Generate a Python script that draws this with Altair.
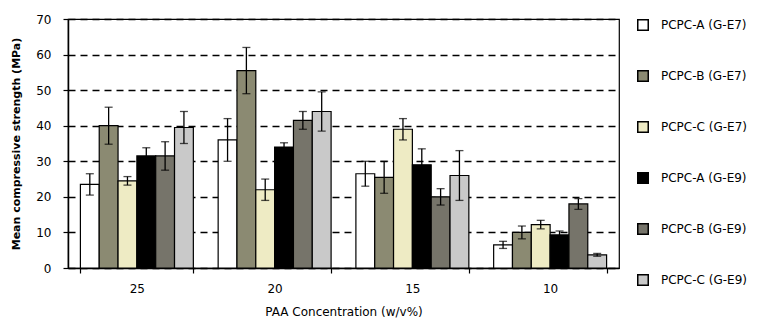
import altair as alt
import pandas as pd

groups = ["25", "20", "15", "10"]
series = ["PCPC-A (G-E7)", "PCPC-B (G-E7)", "PCPC-C (G-E7)",
          "PCPC-A (G-E9)", "PCPC-B (G-E9)", "PCPC-C (G-E9)"]
colors = ["#ffffff", "#8b8a72", "#eeebc4", "#000000", "#76746a", "#c9c9c9"]
y_ticks = [0, 10, 20, 30, 40, 50, 60, 70]

a_e7 = [23.5, 36.0, 26.5, 6.5]
b_e7 = [40.0, 55.5, 25.5, 10.0]
c_e7 = [24.5, 22.0, 39.0, 12.2]
a_e9 = [31.5, 34.0, 29.0, 9.3]
b_e9 = [31.5, 41.5, 20.0, 18.0]
c_e9 = [39.5, 44.0, 26.0, 3.7]

a_e7_err = [3.0, 6.0, 3.5, 1.0]
b_e7_err = [5.2, 6.5, 4.5, 1.8]
c_e7_err = [1.2, 3.0, 3.0, 1.2]
a_e9_err = [2.3, 1.2, 4.5, 1.1]
b_e9_err = [4.0, 2.5, 2.3, 1.5]
c_e9_err = [4.5, 5.5, 7.0, 0.4]

means = [a_e7, b_e7, c_e7, a_e9, b_e9, c_e9]
errs = [a_e7_err, b_e7_err, c_e7_err, a_e9_err, b_e9_err, c_e9_err]

rows = []
for s, m, e in zip(series, means, errs):
    for g, v, d in zip(groups, m, e):
        rows.append({"group": g, "series": s, "mean": v, "lo": v - d, "hi": v + d})
df = pd.DataFrame(rows)

font = "DejaVu Sans"

x = alt.X("group:N", sort=groups,
          scale=alt.Scale(paddingInner=0.18, paddingOuter=0.09),
          axis=alt.Axis(title="PAA Concentration (w/v%)", labelAngle=0, tickBand="extent",
                        labelPadding=10, titlePadding=12, tickSize=5))
xoff = alt.XOffset("series:N", sort=series,
                   scale=alt.Scale(paddingInner=0, paddingOuter=0))

yaxis = alt.Axis(title="Mean compressive strength (MPa)", values=y_ticks,
                 tickCount=20, labelOverlap=False, labelFlush=False,
                 tickSize=5, labelPadding=12, titlePadding=14,
                 grid=True, gridDash=[7, 5], gridColor="black", gridWidth=1.6)
yscale = alt.Scale(domain=[0, 70], nice=False)

bars = alt.Chart(df).mark_bar(stroke="black", strokeWidth=1.2,
                              width=alt.RelativeBandSize(1)).encode(
    x=x, xOffset=xoff,
    y=alt.Y("mean:Q", scale=yscale, axis=yaxis),
    color=alt.Color("series:N", sort=series,
                    scale=alt.Scale(domain=series, range=colors),
                    legend=alt.Legend(title=None, orient="right", offset=18,
                                      symbolType="square", symbolSize=110,
                                      symbolStrokeColor="black", symbolStrokeWidth=1.5,
                                      rowPadding=33, labelFontSize=12, labelOffset=12)),
)

rules = alt.Chart(df).mark_rule(color="black", strokeWidth=1.3).encode(
    x=x, xOffset=xoff, y=alt.Y("lo:Q"), y2="hi:Q")
caps_hi = alt.Chart(df).mark_tick(color="black", size=8, thickness=1.3).encode(
    x=x, xOffset=xoff, y=alt.Y("hi:Q"))
caps_lo = alt.Chart(df).mark_tick(color="black", size=8, thickness=1.3).encode(
    x=x, xOffset=xoff, y=alt.Y("lo:Q"))

chart = alt.layer(bars, rules, caps_hi, caps_lo).properties(
    width=551, height=249,
    autosize=alt.AutoSizeParams(type="none"),
    padding={"left": 60, "top": 11, "right": 139, "bottom": 58},
).configure_view(
    stroke="black", strokeWidth=1.2
).configure_axis(
    labelFont=font, titleFont=font, labelFontSize=12, titleFontSize=11,
    labelColor="black", titleColor="black", domainColor="black", tickColor="black",
    domainWidth=1.5, tickWidth=1.2, titleFontWeight="bold"
).configure_axisX(grid=False, titleFontWeight="normal", titleFontSize=12
).configure_legend(labelFont=font, labelColor="black")

chart.save("out.html", embed_options={"renderer": "svg", "actions": False})
